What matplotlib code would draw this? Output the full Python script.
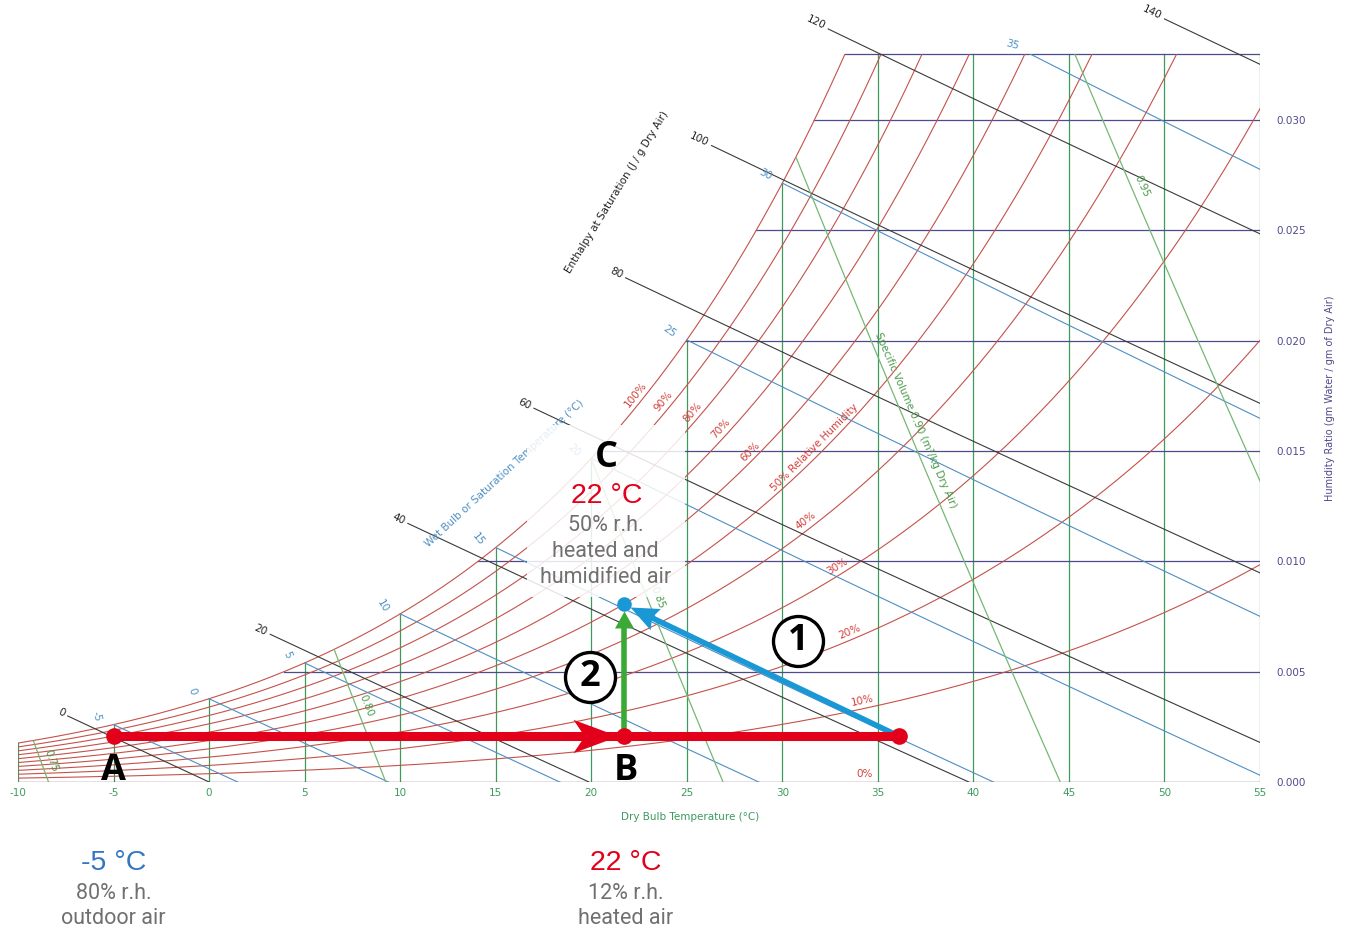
import matplotlib
matplotlib.use('Agg')
import matplotlib.pyplot as plt
from matplotlib.markers import MarkerStyle
from matplotlib.patches import Rectangle
from matplotlib.path import Path
from matplotlib.transforms import Affine2D
import numpy as np

plt.rcParams.update({'font.family': 'DejaVu Sans'})

# ---- chart grid values ----
dry_bulb = [-10, -5, 0, 5, 10, 15, 20, 25, 30, 35, 40, 45, 50, 55]
w_ticks = [0.000, 0.005, 0.010, 0.015, 0.020, 0.025, 0.030]
w_top = 0.033
rh_levels = [0, 10, 20, 30, 40, 50, 60, 70, 80, 90, 100]
wet_bulb = [-5, 0, 5, 10, 15, 20, 25, 30, 35]
enthalpy = [0, 20, 40, 60, 80, 100, 120, 140]
spec_vol = [0.75, 0.80, 0.85, 0.90, 0.95]

# where labels sit along each line (dry bulb °C / humidity ratio)
rh_label_T = [34.3, 34.3, 33.7, 33.1, 31.5, 32.0, 28.6, 27.1, 25.6, 24.1, 22.65]
h_start_T = [-7.4, 3.2, 10.4, 17.0, 21.8, 26.3, 32.4, 50.0]
vol_label_w = [0.0008, 0.0033, 0.0082, 0.0162, 0.0268]

# ---- process: heating then humidifying ----
T_A, rh_A = -5, 80      # outdoor air
T_B = 21.7              # heated air (22 °C)
T_D = 36.1              # end of the over-heating line
T_C, rh_C = 21.7, 50    # heated and humidified air

C_RH, C_WB, C_H = '#c4524a', '#4f8fc2', '#3a3a3a'
C_DB, C_V, C_W = '#3d9a5c', '#74b874', '#4e4a8c'
RED, BLUE, GREEN, GREY = '#e2001a', '#1a98d5', '#3aa935', '#707070'

P = 101.325


def p_sat(T):
    return 0.61094 * np.exp(17.625 * T / (T + 243.04))


def w_rh(T, rh):
    pv = rh / 100 * p_sat(T)
    return 0.621945 * pv / (P - pv)


fig = plt.figure(figsize=(13.49, 9.31), dpi=100)
ax = fig.add_axes([18 / 1349, 149 / 931, 1242 / 1349, 782 / 931])
ax.set_xlim(-10, 55)
ax.set_ylim(0, 0.035438)
for s in ax.spines.values():
    s.set_visible(False)
frame = Rectangle((-10, 0), 65, w_top, transform=ax.transData)


def disp(x, y):
    return ax.transData.transform((x, y))


def angle(x0, y0, x1, y1):
    a, b = disp(x0, y0), disp(x1, y1)
    return np.degrees(np.arctan2(b[1] - a[1], b[0] - a[0]))


TT = np.linspace(-10, 55, 651)
sat = w_rh(TT, 100)

# dry bulb verticals and humidity ratio horizontals
for T in dry_bulb:
    ax.plot([T, T], [0, min(w_rh(T, 100), w_top)], color=C_DB, lw=0.9)
for w in w_ticks + [w_top]:
    ax.plot([np.interp(w, sat, TT), 55], [w, w], color=C_W, lw=0.9)

# relative humidity curves
for rh, tl in zip(rh_levels, rh_label_T):
    ln, = ax.plot(TT, w_rh(TT, rh), color=C_RH, lw=0.8)
    ln.set_clip_path(frame)
    wl = w_rh(tl, rh)
    a = angle(tl - 0.2, w_rh(tl - 0.2, rh), tl + 0.2, w_rh(tl + 0.2, rh))
    n = np.radians(a)
    txt = '50% Relative Humidity' if rh == 50 else f'{rh}%'
    ax.annotate(txt, (tl, wl), xytext=(-3 * np.sin(n), 3 * np.cos(n)),
                textcoords='offset pixels', ha='center', va='bottom',
                rotation=a, rotation_mode='anchor', color='#d2403a', fontsize=7.5)

# wet bulb lines
for twb in wet_bulb:
    ws = w_rh(twb, 100)
    T = np.linspace(twb, 55, 300)
    w = ((2501 - 2.326 * twb) * ws - 1.006 * (T - twb)) / (2501 + 1.86 * T - 4.186 * twb)
    ln, = ax.plot(T, w, color=C_WB, lw=0.8)
    ln.set_clip_path(frame)
    if ws > w_top:
        T0, w0 = np.interp(w_top, w[::-1], T[::-1]), w_top
    else:
        T0, w0 = twb, ws
    d = np.radians(angle(T[0], w[0], T[20], w[20]))
    rot = angle(T0 - 0.2, w_rh(T0 - 0.2, 100), T0 + 0.2, w_rh(T0 + 0.2, 100)) - 90
    ax.annotate(f'{twb}', (T0, w0), xytext=(-19 * np.cos(d), -19 * np.sin(d)),
                textcoords='offset pixels', ha='center', va='center',
                rotation=rot, color=C_WB, fontsize=7.5)

# enthalpy lines
for h, t0 in zip(enthalpy, h_start_T):
    T = np.linspace(t0, min(h / 1.006, 55), 200)
    w = (h - 1.006 * T) / (2501 + 1.86 * T)
    ax.plot(T, w, color=C_H, lw=0.8)
    a = angle(T[0], w[0], T[-1], w[-1])
    n = np.radians(a)
    ax.annotate(f'{h}', (T[0], w[0]), xytext=(-4 * np.cos(n), -4 * np.sin(n)),
                textcoords='offset pixels', ha='right', va='center',
                rotation=a, rotation_mode='anchor', color='#222222', fontsize=7.5)

# specific volume lines
ww = np.linspace(0, 0.04, 801)
for v, wl in zip(spec_vol, vol_label_w):
    T = v * P / (0.287042 * (1 + 1.6078 * ww)) - 273.15
    keep = ww <= w_rh(T, 100)
    ln, = ax.plot(T[keep], ww[keep], color=C_V, lw=0.9)
    ln.set_clip_path(frame)
    tl = v * P / (0.287042 * (1 + 1.6078 * wl)) - 273.15
    a = angle(T[0], ww[0], T[200], ww[200]) - 180
    n = np.radians(a)
    txt = 'Specific Volume 0.90 (m³/kg Dry Air)' if v == 0.90 else f'{v:.2f}'
    ax.annotate(txt, (tl, wl), xytext=(-5 * np.sin(n), 5 * np.cos(n)),
                textcoords='offset pixels', ha='center', va='bottom',
                rotation=a, rotation_mode='anchor', color='#4a9a4a', fontsize=7.5)

# axis titles
ax.text(21.35, 0.02674, 'Enthalpy at Saturation (J / g Dry Air)', rotation=58.5,
        ha='center', va='center', fontsize=7.5, color='#222222')
ax.text(15.48, 0.0140, 'Wet Bulb or Saturation Temperature (°C)', rotation=42.7,
        ha='center', va='center', fontsize=7.5, color=C_WB)
ax.text(58.66, 0.0174, 'Humidity Ratio (gm Water / gm of Dry Air)', rotation=90,
        ha='center', va='center', fontsize=7, color=C_W)
ax.annotate('Dry Bulb Temperature (°C)', (25.2, 0), xytext=(0, -35),
            textcoords='offset pixels', ha='center', va='center', fontsize=7.5, color=C_DB)

ax.set_xticks(dry_bulb)
ax.set_xticklabels([str(t) for t in dry_bulb])
ax.tick_params(axis='x', length=0, pad=4, labelsize=7.5, labelcolor=C_DB)
ax.yaxis.tick_right()
ax.set_yticks(w_ticks)
ax.set_yticklabels([f'{w:.3f}' for w in w_ticks])
ax.tick_params(axis='y', length=0, pad=12, labelsize=7.5, labelcolor=C_W)

# white veil behind the C annotation
ax.add_patch(Rectangle((16.64, 0.00838), 8.26, 0.0078, fc='white', ec='none',
                       alpha=0.85, zorder=3.5))

# ---- process arrows ----
wA = w_rh(T_A, rh_A)
wC = w_rh(T_C, rh_C)
inv = ax.transData.inverted()


def head(src, dst, gap, length, half, notch, color, z):
    p0, p1 = disp(*src), disp(*dst)
    u = (p1 - p0) / np.hypot(*(p1 - p0))
    tip = inv.transform(p1 - u * gap)
    shaft = inv.transform(p1 - u * (gap + length * notch * 0.9))
    a = np.degrees(np.arctan2(u[1], u[0]))
    path = Path([(0, 0), (-1, half), (-notch, 0), (-1, -half), (0, 0)],
                [Path.MOVETO, Path.LINETO, Path.LINETO, Path.LINETO, Path.CLOSEPOLY])
    m = MarkerStyle(path, transform=Affine2D().rotate_deg(a))
    ax.plot(*tip, marker=m, ms=2 * length * 0.72, color=color, mew=0, ls='none', zorder=z)
    return shaft


ax.plot([T_A, T_D], [wA, wA], color=RED, lw=6.5, solid_capstyle='butt', zorder=6)
head((T_A, wA), (T_B, wA), 6, 45, 0.37, 0.75, RED, 6.5)
s = head((T_D, wA), (T_C, wC), 7, 28, 0.42, 0.85, BLUE, 5.5)
ax.plot([T_D, s[0]], [wA, s[1]], color=BLUE, lw=4, zorder=5)
s = head((T_B, wA), (T_C, wC), 7, 17, 0.56, 1.0, GREEN, 5.5)
ax.plot([T_B, s[0]], [wA, s[1]], color=GREEN, lw=4, zorder=5)
for T in (T_A, T_B, T_D):
    ax.plot(T, wA, 'o', ms=12, color=RED, mew=0, zorder=7)
ax.plot(T_C, wC, 'o', ms=10.5, color=BLUE, mew=0, zorder=7)

# circled step numbers
for num, (x, y) in (('1', (30.82, 0.00639)), ('2', (19.93, 0.00476))):
    ax.scatter([x], [y], s=1296, facecolor='white', edgecolor='black', lw=2.4, zorder=6)
    ax.text(x, y, num, ha='center', va='center', fontsize=26, fontweight='bold',
            family='Open Sans', zorder=7)

big = dict(textcoords='offset pixels', ha='center', va='center', zorder=8)
letter = dict(fontsize=26, fontweight='bold', family='Open Sans')
ax.annotate('A', (T_A, wA), xytext=(0, -35), **letter, **big)
ax.annotate('B', (T_B, wA), xytext=(2, -35), **letter, **big)
ax.annotate('C', (T_C, wC), xytext=(-17, 146), **letter, **big)

thin = dict(fontsize=15.5, color=GREY, family=['Roboto', 'DejaVu Sans'])
ax.annotate('22 °C', (T_C, wC), xytext=(-17, 108), fontsize=20.5, color=RED,
            family='Liberation Sans', **big)
for txt, dy in (('50% r.h.', 79), ('heated and', 53), ('humidified air', 27)):
    ax.annotate(txt, (T_C, wC), xytext=(-18, dy), **thin, **big)

ax.annotate('-5 °C', (T_A, wA), xytext=(0, -127), fontsize=20.5, color='#3377c0',
            family='Liberation Sans', **big)
ax.annotate('22 °C', (T_B, wA), xytext=(2, -127), fontsize=20.5, color=RED,
            family='Liberation Sans', **big)
for txt_a, txt_b, dy in (('80% r.h.', '12% r.h.', -157), ('outdoor air', 'heated air', -182)):
    ax.annotate(txt_a, (T_A, wA), xytext=(0, dy), **thin, **big)
    ax.annotate(txt_b, (T_B, wA), xytext=(2, dy), **thin, **big)

fig.savefig('out.png', dpi=100)
